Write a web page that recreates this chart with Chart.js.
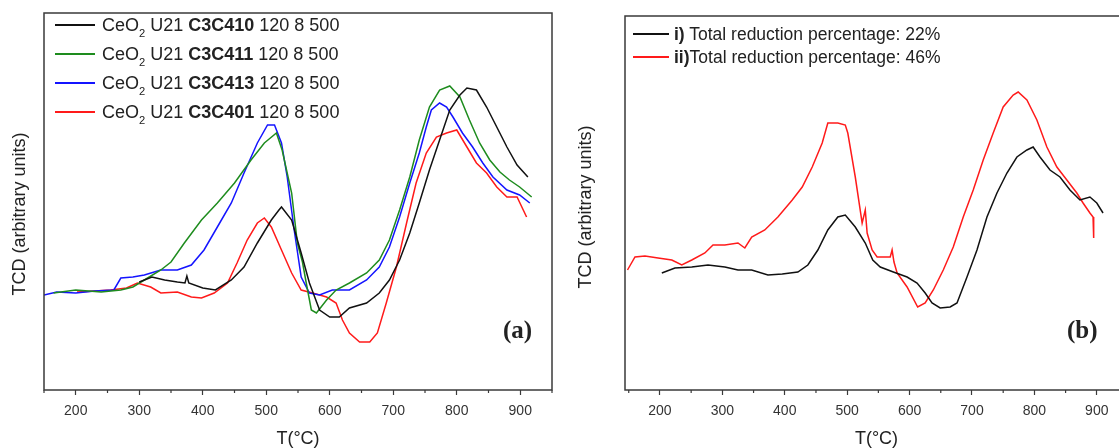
<!DOCTYPE html>
<html>
<head>
<meta charset="utf-8">
<script src="https://cdn.jsdelivr.net/npm/chart.js@4.4.1/dist/chart.umd.min.js"></script>
<style>
  html, body { margin: 0; padding: 0; background: #fff; width: 1119px; height: 448px; overflow: hidden; position: relative; }
  canvas { position: absolute; top: 0; }
  .row { position: absolute; height: 22px; display: flex; align-items: center; white-space: nowrap;
         font-family: "Liberation Sans", Arial, sans-serif; color: #222; }
  .swatch { display: inline-block; height: 2px; }
  .row sub { font-size: 0.62em; vertical-align: -0.55em; line-height: 0; }
  .tag { position: absolute; font-family: "Liberation Serif", "Times New Roman", serif; font-weight: bold;
         font-size: 25px; line-height: 26px; color: #222; }
  .ytitle { position: absolute; width: 200px; height: 20px; line-height: 20px; text-align: center;
            font-family: "Liberation Sans", Arial, sans-serif; font-size: 18px; color: #222;
            transform: rotate(-90deg); transform-origin: 50% 50%; white-space: nowrap; }
</style>
</head>
<body>
<canvas id="chartA" width="560" height="448" style="left:0"></canvas>
<canvas id="chartB" width="580" height="448" style="left:560px"></canvas>
<div class="tag" style="left:503px; top:317px">(a)</div>
<div class="tag" style="left:1067px; top:317px">(b)</div>
<div class="ytitle" style="left:-81px; top:204px">TCD (arbitrary units)</div>
<div class="ytitle" style="left:485px; top:197px">TCD (arbitrary units)</div>
<script>
// x axis ticks
const majorTicks = [200, 300, 400, 500, 600, 700, 800, 900];
const minorTicks = [150, 250, 350, 450, 550, 650, 750, 850, 950];

// ---- panel (a): CeO2 U21 samples ----
const sampleNames = ['C3C410', 'C3C411', 'C3C413', 'C3C401'];
const sampleColors = ['#111111', '#1e8c1e', '#1414ff', '#ff1a1a'];

const tC3C410 = [300, 320, 340, 360, 372, 375, 378, 400, 420, 445, 465, 486, 508, 520, 524, 540, 555, 568, 584, 600, 615, 631, 658, 678, 694, 710, 726, 741, 757, 773, 789, 805, 816, 831, 847, 863, 879, 895, 912];
const yC3C410 = [108, 113, 110, 108, 107, 114, 107, 102, 100, 110, 123, 147, 170, 180, 183, 170, 137, 107, 80, 73, 73, 82, 87, 97, 110, 130, 157, 187, 220, 250, 280, 295, 302, 300, 283, 263, 243, 225, 213];

const tC3C411 = [165, 200, 240, 271, 290, 308, 334, 350, 371, 398, 423, 450, 476, 497, 516, 525, 540, 549, 557, 563, 571, 579, 595, 610, 631, 658, 678, 694, 710, 726, 741, 757, 773, 789, 805, 820, 836, 852, 868, 883, 899, 918];
const yC3C411 = [97, 100, 98, 100, 103, 110, 120, 128, 147, 170, 187, 207, 230, 247, 257, 240, 197, 147, 128, 107, 80, 77, 90, 100, 107, 117, 130, 150, 180, 213, 250, 283, 300, 304, 293, 270, 247, 230, 218, 210, 203, 193];

const tC3C413 = [150, 170, 200, 230, 260, 271, 290, 308, 334, 360, 382, 402, 423, 445, 465, 486, 502, 513, 524, 533, 544, 555, 568, 584, 604, 631, 658, 678, 694, 710, 726, 741, 752, 760, 773, 784, 794, 809, 825, 841, 857, 879, 899, 915];
const yC3C413 = [95, 98, 97, 99, 100, 112, 113, 115, 120, 120, 125, 140, 163, 187, 217, 247, 265, 265, 247, 213, 160, 113, 97, 95, 100, 100, 110, 123, 143, 173, 207, 237, 263, 280, 287, 283, 273, 257, 243, 227, 213, 200, 195, 187];

const tC3C401 = [202, 230, 255, 280, 297, 318, 334, 360, 382, 398, 418, 439, 454, 470, 486, 497, 508, 524, 540, 555, 573, 595, 610, 620, 631, 647, 663, 675, 689, 705, 721, 736, 752, 768, 784, 800, 816, 831, 847, 863, 879, 895, 910];
const yC3C401 = [98, 99, 100, 102, 107, 103, 97, 98, 93, 92, 97, 107, 127, 150, 167, 172, 163, 140, 117, 100, 97, 93, 87, 70, 57, 48, 48, 57, 87, 123, 167, 207, 237, 253, 257, 260, 243, 227, 217, 203, 193, 193, 173];

// ---- panel (b): total reduction ----
const reductionLabels = ['i)', 'ii)'];
const reductionTexts = [' Total reduction percentage: 22%', 'Total reduction percentage: 46%'];
const reductionColors = ['#111111', '#ff1a1a'];

const tRed22 = [203, 224, 251, 277, 304, 325, 347, 373, 396, 421, 437, 453, 469, 485, 497, 513, 529, 541, 553, 574, 596, 612, 625, 636, 649, 665, 676, 692, 708, 724, 740, 756, 772, 788, 798, 809, 825, 841, 857, 873, 889, 900, 910];
const yRed22 = [117, 122, 123, 125, 123, 120, 120, 115, 116, 118, 125, 140, 160, 173, 175, 163, 147, 130, 123, 118, 113, 107, 97, 87, 82, 83, 87, 113, 140, 173, 197, 217, 233, 240, 243, 233, 220, 213, 200, 190, 193, 187, 177];

const tRed46 = [148, 160, 176, 197, 219, 235, 251, 272, 285, 304, 325, 336, 347, 368, 389, 412, 428, 444, 460, 469, 485, 497, 501, 513, 524, 529, 532, 540, 548, 569, 572, 575, 580, 596, 613, 625, 638, 654, 670, 686, 702, 718, 734, 750, 766, 774, 788, 804, 820, 836, 852, 868, 878, 889, 894, 895];
const yRed46 = [120, 133, 134, 132, 130, 125, 130, 137, 145, 145, 147, 142, 153, 160, 173, 190, 203, 223, 247, 267, 267, 265, 257, 213, 167, 180, 157, 140, 133, 133, 140, 128, 117, 103, 83, 87, 100, 120, 143, 173, 200, 230, 257, 283, 295, 298, 290, 270, 243, 223, 210, 197, 187, 177, 173, 152];

const fontSans = '"Liberation Sans", Arial, sans-serif';
const axisColor = '#3a3a3a';

function toPoints(xs, ys) {
  return xs.map((x, i) => ({ x: x, y: ys[i] }));
}

const frameAndTicks = {
  id: 'frameAndTicks',
  afterDraw(chart) {
    const { ctx, chartArea: a } = chart;
    const x = chart.scales.x;
    ctx.save();
    ctx.strokeStyle = axisColor;
    ctx.lineWidth = 1.5;
    ctx.strokeRect(a.left, a.top, a.right - a.left, a.bottom - a.top);
    ctx.lineWidth = 1.2;
    ctx.beginPath();
    minorTicks.forEach(v => {
      if (v < x.min || v > x.max) return;
      const px = x.getPixelForValue(v);
      ctx.moveTo(px, a.bottom);
      ctx.lineTo(px, a.bottom + 3);
    });
    ctx.stroke();
    ctx.restore();
  }
};

function makePanel(id, datasets, xMin, yMax, padTop, padRight, yWidth) {
  return new Chart(document.getElementById(id), {
    type: 'line',
    data: { datasets: datasets },
    options: {
      responsive: false,
      animation: false,
      layout: { padding: { top: padTop, right: padRight, left: 0, bottom: 0 } },
      plugins: { legend: { display: false }, tooltip: { enabled: false } },
      elements: { point: { radius: 0 }, line: { borderWidth: 1.5, tension: 0 } },
      scales: {
        x: {
          type: 'linear',
          min: xMin,
          max: 950,
          afterBuildTicks(s) { s.ticks = majorTicks.map(v => ({ value: v })); },
          afterFit(s) { s.height = 58; },
          ticks: { font: { family: fontSans, size: 14 }, color: '#333', padding: 8, maxRotation: 0, autoSkip: false },
          grid: { drawOnChartArea: false, tickLength: 5, tickColor: axisColor, tickWidth: 1.2 },
          border: { display: false },
          title: { display: true, text: 'T(°C)', font: { family: fontSans, size: 18 }, color: '#222', padding: { top: 0, bottom: -2 } }
        },
        y: {
          min: 0,
          max: yMax,
          afterFit(s) { s.width = yWidth; },
          ticks: { display: false },
          grid: { display: false },
          border: { display: false }
        }
      }
    },
    plugins: [frameAndTicks]
  });
}

const seriesA = [[tC3C410, yC3C410], [tC3C411, yC3C411], [tC3C413, yC3C413], [tC3C401, yC3C401]];
makePanel('chartA', seriesA.map((s, i) => ({
  label: sampleNames[i],
  data: toPoints(s[0], s[1]),
  borderColor: sampleColors[i]
})), 150, 377, 13, 8, 44);

const seriesB = [[tRed22, yRed22], [tRed46, yRed46]];
makePanel('chartB', seriesB.map((s, i) => ({
  label: reductionLabels[i],
  data: toPoints(s[0], s[1]),
  borderColor: reductionColors[i]
})), 144, 374, 16, 12, 65);

// legends as html text
sampleNames.forEach((name, i) => {
  const row = document.createElement('div');
  row.className = 'row';
  row.style.left = '55px';
  row.style.top = (25 + i * 29 - 11) + 'px';
  row.style.fontSize = '18px';
  row.innerHTML = '<span class="swatch" style="width:40px;margin-right:7px;background:' + sampleColors[i] + '"></span>' +
    '<span>CeO<sub>2</sub> U21 <b>' + name + '</b> 120 8 500</span>';
  document.body.appendChild(row);
});
reductionLabels.forEach((lab, i) => {
  const row = document.createElement('div');
  row.className = 'row';
  row.style.left = '633px';
  row.style.top = (34 + i * 23 - 11) + 'px';
  row.style.fontSize = '17.5px';
  row.innerHTML = '<span class="swatch" style="width:36px;margin-right:5px;background:' + reductionColors[i] + '"></span>' +
    '<span><b>' + lab + '</b>' + reductionTexts[i] + '</span>';
  document.body.appendChild(row);
});
</script>
</body>
</html>
